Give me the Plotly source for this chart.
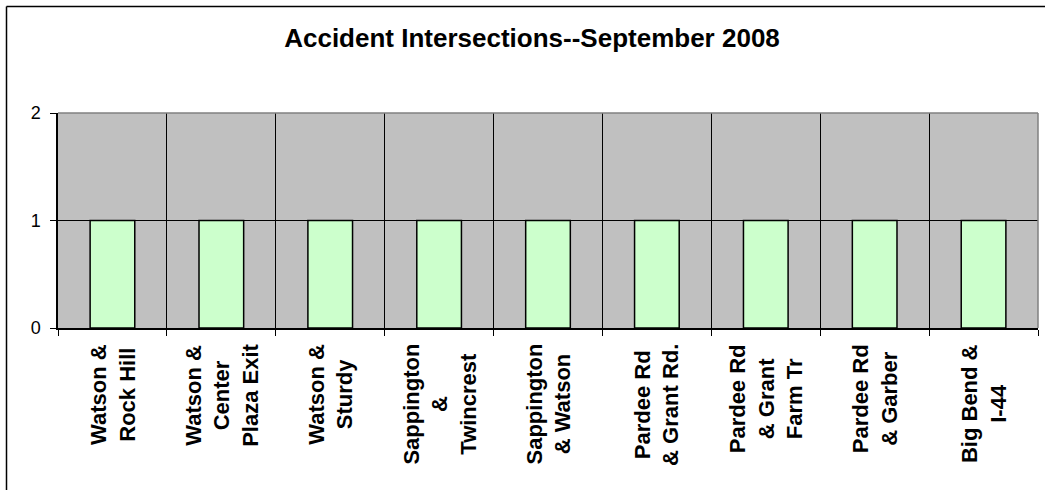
import plotly.graph_objects as go

categories = [
    "Watson &<br>Rock Hill",
    "Watson &<br>Center<br>Plaza Exit",
    "Watson &<br>Sturdy",
    "Sappington<br>&<br>Twincrest",
    "Sappington<br>& Watson",
    "Pardee Rd<br>& Grant Rd.",
    "Pardee Rd<br>& Grant<br>Farm Tr",
    "Pardee Rd<br>& Garber",
    "Big Bend &<br>I-44",
]
accidents = [1, 1, 1, 1, 1, 1, 1, 1, 1]
y_ticks = [0, 1, 2]
title_text = "Accident Intersections--September 2008"

W, H = 1045, 490
ML, MR, MT, MB = 58, 7, 113, 162
PW, PH = W - ML - MR, H - MT - MB

FONT = "Liberation Sans, Arial, sans-serif"

fig = go.Figure()
fig.add_trace(go.Bar(
    x=categories, y=accidents, width=0.41,
    marker=dict(color="#CCFFCC", line=dict(color="black", width=1.5)),
    hoverinfo="x+y",
))

for c in categories:
    fig.add_annotation(
        x=c, xref="x", y=0, yref="paper", yanchor="top", xanchor="center",
        yshift=-14, text=c, textangle=-90, showarrow=False, align="center",
        font=dict(family=FONT, size=22, color="black", weight="bold"),
    )

def px_to_paper_x(px):
    return (px - ML) / PW

def px_to_paper_y(py):
    return (H - MB - py) / PH

shapes = [
    dict(type="line", xref="paper", yref="paper", x0=0, x1=1, y0=1, y1=1,
         line=dict(color="#808080", width=1.5), layer="above"),
    dict(type="line", xref="paper", yref="paper", x0=1, x1=1, y0=0, y1=1,
         line=dict(color="#808080", width=1.5), layer="above"),
    dict(type="line", xref="paper", yref="paper",
         x0=px_to_paper_x(6.5), x1=px_to_paper_x(1100),
         y0=px_to_paper_y(6.5), y1=px_to_paper_y(6.5),
         line=dict(color="black", width=1.5)),
    dict(type="line", xref="paper", yref="paper",
         x0=px_to_paper_x(6.5), x1=px_to_paper_x(6.5),
         y0=px_to_paper_y(6.5), y1=px_to_paper_y(600),
         line=dict(color="black", width=1.5)),
]

fig.update_layout(
    width=W, height=H,
    margin=dict(l=ML, r=MR, t=MT, b=MB, pad=0),
    paper_bgcolor="white",
    plot_bgcolor="#C0C0C0",
    showlegend=False,
    bargap=0.59,
    title=dict(
        text=title_text, x=532 / W, xanchor="center",
        y=1 - 37.6 / H, yanchor="middle", xref="container", yref="container",
        font=dict(family=FONT, size=26, color="black", weight="bold"),
    ),
    xaxis=dict(
        type="category", tickson="boundaries", ticks="outside", ticklen=6,
        tickcolor="black", showticklabels=False, showgrid=True,
        gridcolor="black", gridwidth=1, showline=True, linecolor="black",
        linewidth=1.5, zeroline=False, fixedrange=True,
    ),
    yaxis=dict(
        range=[0, 2], tickvals=y_ticks, ticktext=[str(v) for v in y_ticks],
        ticks="outside", ticklen=6, tickcolor="black", showgrid=True,
        gridcolor="black", gridwidth=1, showline=True, linecolor="black",
        linewidth=1.5, zeroline=False, ticklabelstandoff=6,
        tickfont=dict(family=FONT, size=18, color="black"), fixedrange=True,
    ),
    shapes=shapes,
)

fig.write_html(
    "out.html",
    config={"displayModeBar": False},
    post_script="document.body.style.margin='0';document.body.style.overflow='hidden';",
)
